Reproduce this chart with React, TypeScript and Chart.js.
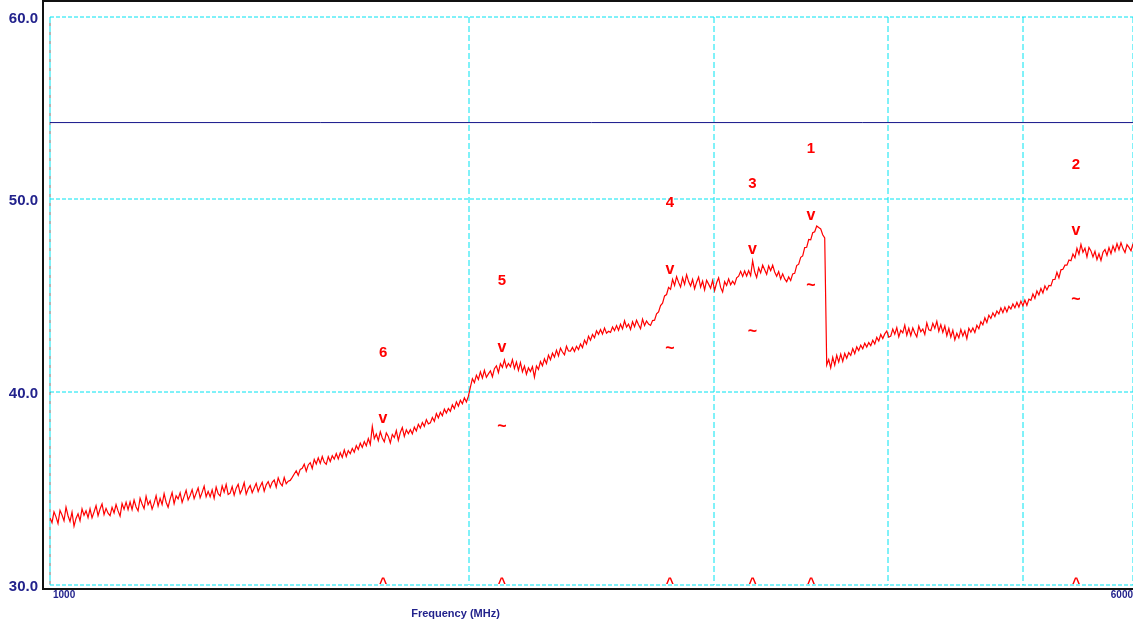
import { useEffect, useRef } from "react";
import { Chart, registerables } from "chart.js";

Chart.register(...registerables);

// Swept measurement: levels (dBµV/m) on a logarithmic sweep grid from start to stop.
const SWEEP_START_MHZ = 1000;
const SWEEP_STOP_MHZ = 6000;

const traceLevels: number[] = [
  33.47, 33.23, 33.79, 33.53, 33.19, 33.87, 33.63, 33.33, 34.03, 33.59,
  33.29, 33.77, 33.05, 33.45, 33.69, 33.33, 33.95, 33.61, 33.85, 33.49,
  33.95, 33.48, 33.78, 34.11, 33.59, 33.94, 34.20, 33.65, 33.97, 33.72,
  33.59, 34.02, 33.73, 34.17, 33.84, 33.57, 34.22, 33.92, 34.29, 33.90,
  34.30, 33.90, 34.40, 34.04, 33.84, 34.50, 34.20, 33.96, 34.60, 34.16,
  34.37, 33.93, 34.23, 34.63, 34.09, 34.49, 34.17, 34.73, 34.29, 34.03,
  34.45, 34.79, 34.21, 34.62, 34.46, 34.78, 34.28, 34.59, 34.91, 34.41,
  34.64, 34.94, 34.47, 34.75, 35.03, 34.52, 34.80, 35.12, 34.57, 34.85,
  34.57, 34.93, 34.49, 35.07, 34.73, 34.61, 35.13, 34.81, 35.21, 34.69,
  34.76, 35.10, 34.66, 35.02, 35.22, 34.74, 34.96, 35.30, 34.70, 34.98,
  35.15, 34.78, 35.03, 35.27, 34.84, 35.11, 35.32, 34.86, 35.19, 35.36,
  35.05, 35.32, 35.44, 35.07, 35.55, 35.28, 35.14, 35.57, 35.25, 35.38,
  35.42, 35.58, 35.75, 35.92, 35.68, 35.99, 36.05, 36.26, 35.90, 36.22,
  36.34, 36.04, 36.51, 36.27, 36.59, 36.30, 36.66, 36.36, 36.25, 36.65,
  36.40, 36.70, 36.52, 36.81, 36.53, 36.85, 36.61, 37.00, 36.66, 36.96,
  36.80, 37.08, 36.88, 37.22, 37.02, 37.35, 37.13, 37.43, 37.21, 37.59,
  37.28, 38.22, 37.58, 37.82, 37.48, 37.94, 37.62, 37.42, 37.88, 37.70,
  37.36, 37.80, 37.64, 38.00, 37.50, 37.90, 38.16, 37.70, 38.04, 37.84,
  38.05, 37.83, 38.18, 37.98, 38.33, 38.13, 38.42, 38.22, 38.57, 38.35,
  38.40, 38.68, 38.48, 38.88, 38.66, 38.95, 38.77, 39.11, 38.91, 39.15,
  39.00, 39.34, 39.14, 39.49, 39.27, 39.57, 39.39, 39.70, 39.48, 39.78,
  40.25, 40.69, 40.49, 40.87, 40.65, 41.04, 40.72, 41.12, 40.76, 40.94,
  41.10, 40.79, 41.21, 41.36, 41.01, 41.47, 41.28, 41.67, 41.27, 41.48,
  41.31, 41.68, 41.22, 41.55, 41.12, 41.52, 41.05, 41.34, 40.92, 41.25,
  41.06, 41.32, 40.77, 41.35, 41.17, 41.58, 41.36, 41.72, 41.47, 41.91,
  41.67, 42.01, 41.81, 42.17, 41.87, 42.27, 42.07, 41.93, 42.37, 42.13,
  42.12, 42.31, 42.10, 42.37, 42.20, 42.49, 42.30, 42.69, 42.48, 42.89,
  42.68, 42.98, 42.81, 43.17, 42.99, 43.24, 43.00, 43.32, 43.05, 43.15,
  43.09, 43.37, 43.18, 43.44, 43.20, 43.51, 43.27, 43.69, 43.36, 43.52,
  43.24, 43.64, 43.38, 43.72, 43.48, 43.28, 43.78, 43.44, 43.68, 43.52,
  43.45, 43.70, 43.72, 44.05, 44.15, 44.48, 44.60, 44.98, 45.05, 45.42,
  45.32, 45.84, 45.52, 45.98, 45.68, 45.44, 45.92, 45.58, 46.08, 45.72,
  45.49, 45.83, 45.35, 45.69, 45.95, 45.43, 45.75, 45.29, 45.79, 45.59,
  45.38, 45.78, 45.26, 45.66, 45.92, 45.42, 45.18, 45.72, 45.52, 45.86,
  45.56, 45.74, 45.58, 45.92, 46.00, 46.25, 45.99, 46.27, 46.01, 46.29,
  46.03, 46.80, 46.23, 45.93, 46.43, 46.17, 46.57, 46.33, 46.09, 46.53,
  46.29, 46.57, 46.22, 46.00, 46.24, 45.85, 46.12, 45.86, 45.71, 45.96,
  45.78, 46.12, 46.15, 46.55, 46.62, 46.98, 47.05, 47.48, 47.50, 47.90,
  47.88, 48.25, 48.30, 48.60, 48.52, 48.45, 48.15, 47.98, 41.40, 41.68,
  41.25, 41.80, 41.39, 41.90, 41.55, 41.96, 41.59, 42.00, 41.75, 42.04,
  41.90, 42.25, 41.99, 42.34, 42.15, 42.43, 42.24, 42.53, 42.33, 42.56,
  42.40, 42.68, 42.49, 42.83, 42.64, 42.98, 42.77, 43.01, 43.16, 42.84,
  42.90, 43.26, 43.00, 43.34, 42.86, 43.20, 43.06, 43.46, 42.94, 43.30,
  42.92, 43.32, 43.06, 42.86, 43.42, 43.12, 43.26, 42.98, 43.58, 43.22,
  43.18, 43.56, 43.30, 43.66, 43.15, 43.49, 43.09, 43.42, 42.92, 43.29,
  42.84, 43.20, 42.70, 43.04, 42.80, 43.24, 42.90, 43.16, 42.76, 43.30,
  43.10, 43.32, 43.08, 43.46, 43.28, 43.64, 43.48, 43.84, 43.60, 43.98,
  43.81, 44.10, 43.91, 44.20, 44.05, 44.36, 44.11, 44.40, 44.15, 44.44,
  44.30, 44.56, 44.36, 44.64, 44.40, 44.71, 44.47, 44.77, 44.49, 44.81,
  44.75, 45.08, 44.85, 45.24, 45.03, 45.36, 45.13, 45.50, 45.29, 45.52,
  45.50, 45.83, 45.83, 46.20, 45.91, 46.33, 46.36, 46.57, 46.57, 46.84,
  46.80, 47.15, 46.96, 47.45, 47.14, 47.65, 47.24, 47.45, 47.00, 47.49,
  47.31, 47.00, 47.29, 46.86, 47.16, 46.82, 47.24, 47.38, 47.08, 47.48,
  47.17, 47.57, 47.29, 47.69, 47.37, 47.73, 47.43, 47.23, 47.63, 47.49,
  47.32, 47.68,
];

// Limit line level
const limitLevel = 53.96;

// Level axis: graticule spans 30 dB up to the top edge of the display
const Y_MIN = 30;
const Y_TOP = 59.43;
const yTicks = [30, 40, 50, 60];
const xGridFreqs = [1000, 2000, 3000, 4000, 5000, 6000];
const xEndLabels = ["1000", "6000"];
const xAxisTitle = "Frequency (MHz)";

// Peak markers: id, frequency, peak level (v) and average level (~)
const markerIds = ["1", "2", "3", "4", "5", "6"];
const markerFreqs = [3522, 5460, 3197, 2789, 2112, 1735];
const markerPeaks = [49.15, 48.36, 47.38, 46.37, 42.33, 38.62];
const markerAvgs: (number | null)[] = [45.55, 44.84, 43.21, 42.33, 38.24, null];

const NAVY = "#22228c";
const LIMIT_BLUE = "#15158a";
const RED = "#ff0000";
const CYAN = "#00e4f2";
const FONT = "'Liberation Sans', Arial, sans-serif";

const tracePoints = traceLevels.map((level, i) => ({
  x: SWEEP_START_MHZ * Math.pow(SWEEP_STOP_MHZ / SWEEP_START_MHZ, i / (traceLevels.length - 1)),
  y: level,
}));

// Draw a glyph centred (horizontally and vertically by its ink box) at x, cy
function drawCentered(ctx: CanvasRenderingContext2D, text: string, x: number, cy: number) {
  const m = ctx.measureText(text);
  ctx.fillText(text, x, cy + (m.actualBoundingBoxAscent - m.actualBoundingBoxDescent) / 2);
}

const analyzerDecor = {
  id: "analyzerDecor",
  beforeDatasetsDraw(chart: any) {
    const { ctx, chartArea: a, scales } = chart;
    const xs = scales.x;
    const ys = scales.y;
    ctx.save();
    ctx.lineWidth = 1;
    ctx.strokeStyle = CYAN;
    ctx.setLineDash([4, 2]);
    yTicks.forEach((v) => {
      const py = Math.round(Math.max(ys.getPixelForValue(v), a.top));
      ctx.beginPath();
      ctx.moveTo(a.left, py);
      ctx.lineTo(a.right, py);
      ctx.stroke();
    });
    ctx.setLineDash([6, 3]);
    xGridFreqs.forEach((f) => {
      const px = Math.round(xs.getPixelForValue(f));
      ctx.beginPath();
      ctx.moveTo(px, a.top);
      ctx.lineTo(px, a.bottom);
      ctx.stroke();
    });
    // grey dashes interleaved on the left edge
    const lx = Math.round(xs.getPixelForValue(SWEEP_START_MHZ));
    ctx.strokeStyle = "#6a6a6a";
    ctx.setLineDash([3, 6]);
    ctx.lineDashOffset = -6;
    ctx.beginPath();
    ctx.moveTo(lx, a.top);
    ctx.lineTo(lx, a.bottom);
    ctx.stroke();
    ctx.restore();
  },
  afterDraw(chart: any) {
    const { ctx, chartArea: a, scales } = chart;
    const xs = scales.x;
    const ys = scales.y;
    ctx.save();

    // outer frame
    ctx.fillStyle = "#111111";
    ctx.fillRect(a.left - 8, 0, 2, a.bottom + 5);
    ctx.fillRect(a.left - 8, a.bottom + 3, a.right - a.left + 8, 2);
    ctx.fillRect(a.left - 8, 0, a.right - a.left + 8, 2);

    // level labels
    ctx.fillStyle = NAVY;
    ctx.font = `bold 15px ${FONT}`;
    ctx.textAlign = "right";
    ctx.textBaseline = "alphabetic";
    const m0 = ctx.measureText("0");
    yTicks.forEach((v) => {
      const py = Math.max(ys.getPixelForValue(v), a.top);
      ctx.fillText(v.toFixed(1), a.left - 12, py + 1 + (m0.actualBoundingBoxAscent - m0.actualBoundingBoxDescent) / 2);
    });

    // frequency end labels
    ctx.font = `bold 10px ${FONT}`;
    const mx = ctx.measureText("0");
    const xlY = a.bottom + 9 + (mx.actualBoundingBoxAscent - mx.actualBoundingBoxDescent) / 2;
    ctx.textAlign = "left";
    ctx.fillText(xEndLabels[0], xs.getPixelForValue(SWEEP_START_MHZ) + 3, xlY);
    ctx.textAlign = "right";
    ctx.fillText(xEndLabels[1], xs.getPixelForValue(SWEEP_STOP_MHZ), xlY);

    // axis title
    ctx.font = `bold 11px ${FONT}`;
    ctx.textAlign = "center";
    const mt = ctx.measureText("F");
    ctx.fillText(xAxisTitle, a.left + 405.5, a.bottom + 27.5 + (mt.actualBoundingBoxAscent - mt.actualBoundingBoxDescent) / 2);

    // markers
    ctx.fillStyle = RED;
    markerIds.forEach((id, i) => {
      const px = xs.getPixelForValue(markerFreqs[i]);
      const vy = ys.getPixelForValue(markerPeaks[i]);
      ctx.font = `bold 16px ${FONT}`;
      drawCentered(ctx, "v", px, vy);
      ctx.font = `bold 15px ${FONT}`;
      drawCentered(ctx, id, px, vy - 67);
      const avg = markerAvgs[i];
      if (avg !== null) {
        ctx.font = `bold 16px ${FONT}`;
        drawCentered(ctx, "~", px, ys.getPixelForValue(avg));
      }
      ctx.font = `bold 14px ${FONT}`;
      drawCentered(ctx, "^", px, a.bottom - 4.5);
    });

    ctx.restore();
  },
};

export default function App() {
  const canvasRef = useRef<HTMLCanvasElement | null>(null);

  useEffect(() => {
    const canvas = canvasRef.current;
    if (!canvas) return;
    const chart = new Chart(canvas, {
      type: "line",
      data: {
        datasets: [
          {
            label: "Limit",
            data: [
              { x: SWEEP_START_MHZ, y: limitLevel },
              { x: SWEEP_STOP_MHZ, y: limitLevel },
            ],
            borderColor: LIMIT_BLUE,
            borderWidth: 1,
            pointRadius: 0,
          },
          {
            label: "Trace",
            data: tracePoints,
            borderColor: RED,
            borderWidth: 1.2,
            pointRadius: 0,
            tension: 0,
          },
        ],
      },
      options: {
        animation: false,
        responsive: false,
        devicePixelRatio: 1,
        layout: { padding: { left: 50, top: 17, right: 0, bottom: 37 } },
        plugins: { legend: { display: false }, tooltip: { enabled: false } },
        scales: {
          x: { type: "logarithmic", min: SWEEP_START_MHZ, max: SWEEP_STOP_MHZ, display: false },
          y: { type: "linear", min: Y_MIN, max: Y_TOP, display: false },
        },
      },
      plugins: [analyzerDecor],
    });
    return () => chart.destroy();
  }, []);

  return (
    <div style={{ position: "fixed", left: 0, top: 0, width: 1133, height: 622, background: "#ffffff" }}>
      <canvas ref={canvasRef} width={1133} height={622} style={{ display: "block" }} />
    </div>
  );
}
